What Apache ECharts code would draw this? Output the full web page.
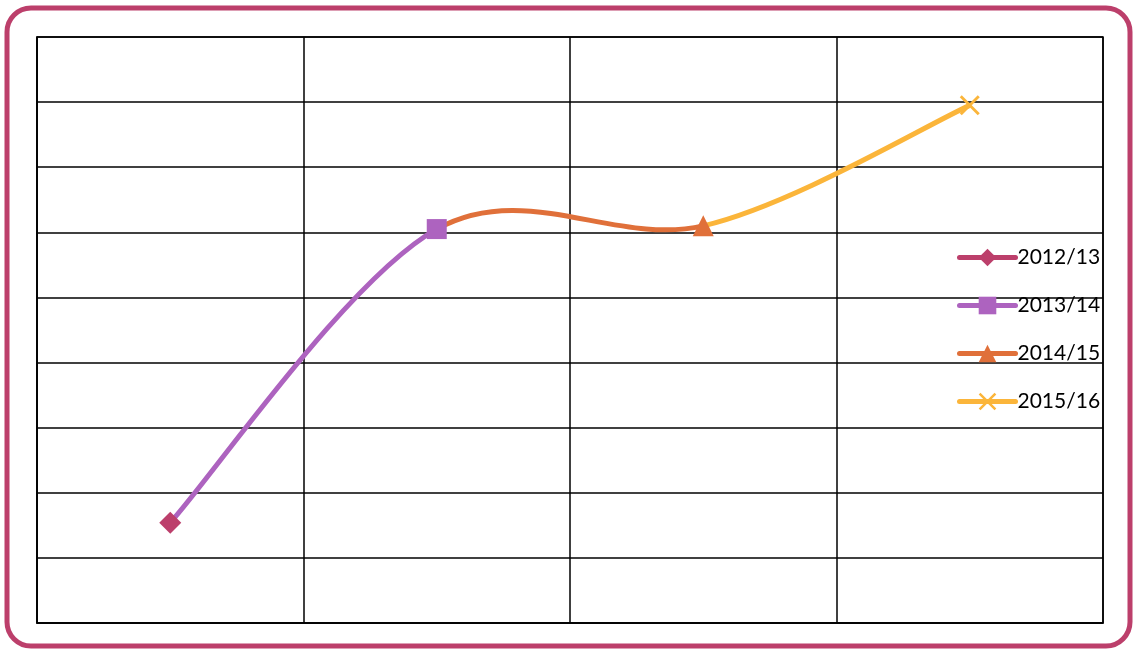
<!DOCTYPE html>
<html>
<head>
<meta charset="utf-8">
<script src="https://cdn.jsdelivr.net/npm/echarts@6/dist/echarts.min.js"></script>
<style>
  html, body { margin: 0; padding: 0; background: #fff; }
  #chart { width: 1137px; height: 651px; }
</style>
</head>
<body>
<div id="chart"></div>
<script>
var categories = ['2012/13', '2013/14', '2014/15', '2015/16'];
var values = [1.54, 6.05, 6.1, 7.95];
var seriesColors = ['#bc3f6b', '#ad63bf', '#e0703a', '#fbb53a'];
var xSymbol = 'path://M2,0 L10,8 L18,0 L20,2 L12,10 L20,18 L18,20 L10,12 L2,20 L0,18 L8,10 L0,2 Z';
var symbols = ['diamond', 'rect', 'triangle', xSymbol];
var symbolSizes = [22, 20, 21, 20];

// one marker series per year, so each shows up in the legend with its own look
var markerSeries = categories.map(function (name, i) {
    var data = categories.map(function (c, j) { return j === i ? values[i] : '-'; });
    return {
        name: name,
        type: 'line',
        data: data,
        symbol: symbols[i],
        symbolSize: symbolSizes[i],
        showAllSymbol: true,
        itemStyle: { color: seriesColors[i] },
        lineStyle: { color: seriesColors[i], width: 4 },
        z: 5
    };
});

// smooth curve like the spreadsheet one: bezier segments, catmull-rom style control points
function pt(api, i) {
    var j = Math.max(0, Math.min(values.length - 1, i));
    return api.coord([j, values[j]]);
}

var curveSeries = {
    name: 'curve',
    type: 'custom',
    data: values.map(function (v, i) { return [i, v]; }),
    z: 3,
    silent: true,
    renderItem: function (params, api) {
        var i = params.dataIndex;
        if (i >= values.length - 1) return null;
        var p0 = pt(api, i - 1), p1 = pt(api, i), p2 = pt(api, i + 1), p3 = pt(api, i + 2);
        return {
            type: 'bezierCurve',
            shape: {
                x1: p1[0], y1: p1[1],
                x2: p2[0], y2: p2[1],
                cpx1: p1[0] + (p2[0] - p0[0]) / 6, cpy1: p1[1] + (p2[1] - p0[1]) / 6,
                cpx2: p2[0] - (p3[0] - p1[0]) / 6, cpy2: p2[1] - (p3[1] - p1[1]) / 6
            },
            style: { fill: null, stroke: seriesColors[i + 1], lineWidth: 5, lineCap: 'butt' }
        };
    }
};

var option = {
    animation: false,
    graphic: [{
        type: 'rect',
        shape: { x: 7, y: 8, width: 1123, height: 638, r: 24 },
        style: { fill: 'none', stroke: '#bc3f6b', lineWidth: 5 },
        silent: true
    }],
    grid: {
        left: 37, right: 34, top: 37, bottom: 28,
        show: true, borderColor: '#000', borderWidth: 1.5
    },
    legend: {
        orient: 'vertical',
        left: 952,
        top: 242,
        itemWidth: 56,
        itemHeight: 22,
        itemGap: 27,
        data: categories,
        lineStyle: { width: 5, cap: 'round' },
        textStyle: { fontFamily: 'Lato', fontSize: 21, color: '#000', padding: [0, 0, 0, -3] }
    },
    xAxis: {
        type: 'category',
        data: categories,
        boundaryGap: true,
        axisLine: { lineStyle: { color: '#000', width: 1.5 } },
        axisTick: { show: false },
        axisLabel: { show: false },
        splitLine: { show: true, lineStyle: { color: '#000', width: 1.5 } }
    },
    yAxis: {
        type: 'value',
        min: 0,
        max: 9,
        interval: 1,
        axisLine: { show: true, lineStyle: { color: '#000', width: 1.5 } },
        axisTick: { show: false },
        axisLabel: { show: false },
        splitLine: { show: true, lineStyle: { color: '#000', width: 1.5 } }
    },
    series: markerSeries.concat([curveSeries])
};

var chart = echarts.init(document.getElementById('chart'));
chart.setOption(option);
</script>
</body>
</html>
